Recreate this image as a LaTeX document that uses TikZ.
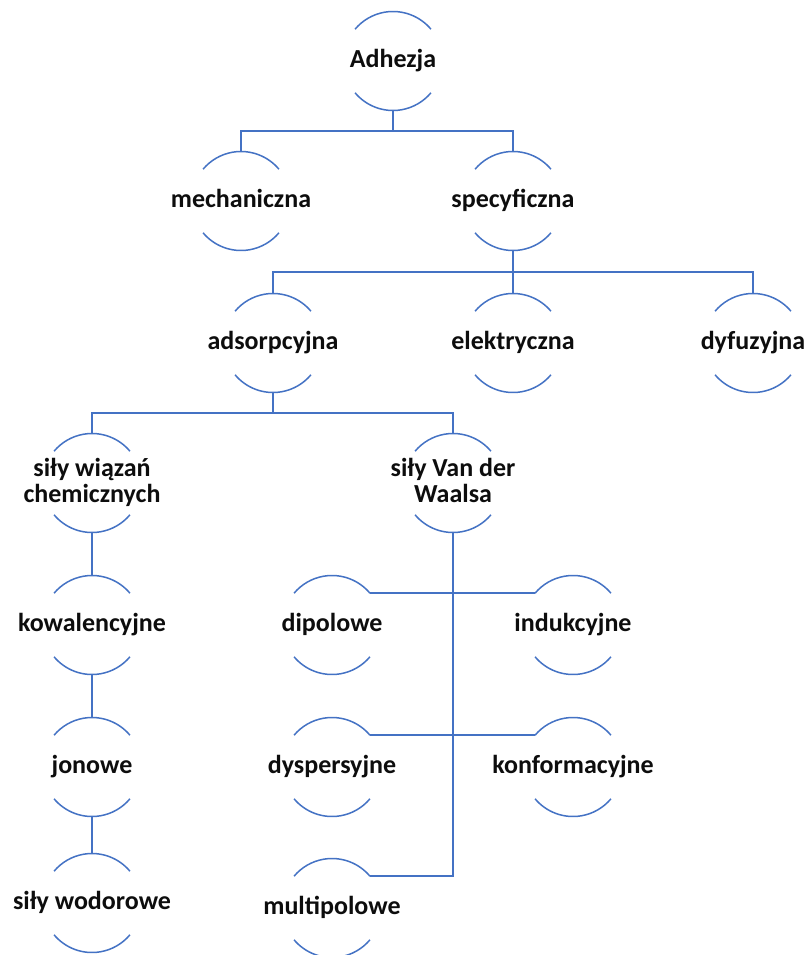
\documentclass[tikz,border=0pt]{standalone}
\usepackage{fontspec}
\setmainfont{Carlito}
\usetikzlibrary{calc}
\definecolor{linkblue}{HTML}{4472C4}
\definecolor{inkblack}{HTML}{0D0D0D}
\newlength\hubR
\setlength\hubR{49.5pt}
\tikzset{
  hub/.style={circle, minimum size=2\hubR, inner sep=0pt, draw=none},
  lbl/.style={anchor=base, inner sep=0pt, align=center, text=inkblack,
    font=\bfseries\fontsize{26}{25.5}\selectfont},
  arcline/.style={draw=linkblue, line width=1.5pt},
  link/.style={draw=linkblue, line width=1.5pt},
}
% a topic: empty hub circle, its label, its two arcs and four docking points
\newcommand\topic[5]{% name, x, y, baseline shift of the last line, text
  \node[hub] (#1) at (#2,-#3) {};
  \node[lbl] (#1-txt) at ([yshift=#4]#1.center) {#5};
  \draw[arcline] ([shift={(40:\hubR)}]#1.center) arc (40:140:\hubR);
  \draw[arcline] ([shift={(220:\hubR)}]#1.center) arc (220:320:\hubR);
  \coordinate (#1-t) at ([yshift=\hubR]#1.center);
  \coordinate (#1-b) at ([yshift=-\hubR]#1.center);
  \coordinate (#1-tr) at ([shift={(40:\hubR)}]#1.center);
  \coordinate (#1-tl) at ([shift={(140:\hubR)}]#1.center);
}
\begin{document}
\begin{tikzpicture}[x=1pt,y=1pt]
\useasboundingbox (0,0) rectangle (809,-955);
\fill[white] (0,0) rectangle (809,-955);

\topic{adh}{393}{61}{-6.5pt}{Adhezja}
\topic{mech}{241}{201}{-6.5pt}{mechaniczna}
\topic{spec}{513}{201}{-6.5pt}{specyficzna}
\topic{ads}{273}{343}{-6.5pt}{adsorpcyjna}
\topic{ele}{513}{343}{-6.5pt}{elektryczna}
\topic{dyf}{753}{343}{-6.5pt}{dyfuzyjna}
\topic{chem}{92}{483}{-19pt}{siły wiązań\\chemicznych}
\topic{vdw}{453}{483}{-19pt}{siły Van der\\Waalsa}
\topic{kow}{92}{625}{-6.5pt}{kowalencyjne}
\topic{jon}{92}{767}{-6.5pt}{jonowe}
\topic{wod}{92}{903}{-6.5pt}{siły wodorowe}
\topic{dip}{332}{625}{-6.5pt}{dipolowe}
\topic{ind}{573}{625}{-6.5pt}{indukcyjne}
\topic{dys}{332}{767}{-6.5pt}{dyspersyjne}
\topic{konf}{573}{767}{-6.5pt}{konformacyjne}
\topic{multi}{332}{908}{-6.5pt}{multipolowe}

% tree buses
\coordinate (bus1) at ($(adh-b)!0.5!(mech-t)$);
\coordinate (bus2) at ($(spec-b)!0.5!(ads-t)$);
\coordinate (bus3) at ($(ads-b)!0.5!(chem-t)$);

\draw[link] (adh-b) -- (adh-b |- bus1);
\draw[link] (mech-t) |- (bus1 -| spec-t) -- (spec-t);

\draw[link] (spec-b) -- (spec-b |- bus2);
\draw[link] (ads-t) |- (bus2 -| dyf-t) -- (dyf-t);
\draw[link] (ele-t) -- (ele-t |- bus2);

\draw[link] (ads-b) -- (ads-b |- bus3);
\draw[link] (chem-t) |- (bus3 -| vdw-t) -- (vdw-t);

% chemical bonds chain
\draw[link] (chem-b) -- (kow-t);
\draw[link] (kow-b) -- (jon-t);
\draw[link] (jon-b) -- (wod-t);

% Van der Waals branch
\draw[link] (vdw-b) |- (multi-tr);
\draw[link] (dip-tr) -- (ind-tl);
\draw[link] (dys-tr) -- (konf-tl);
\end{tikzpicture}
\end{document}
